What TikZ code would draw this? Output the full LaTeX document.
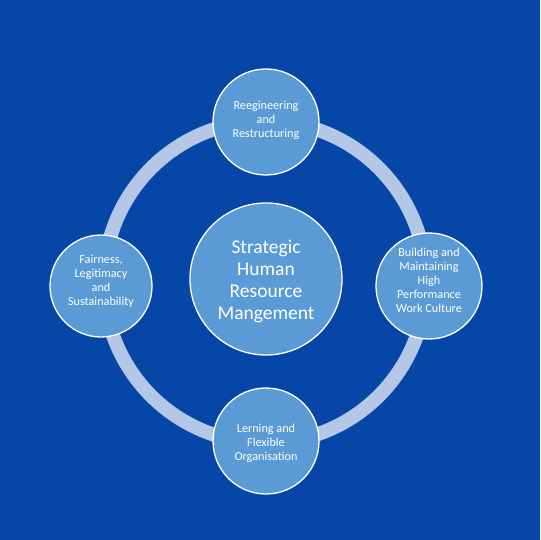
\documentclass[tikz,border=0pt]{standalone}
\usepackage{fontspec}
\setmainfont{Carlito}
\begin{document}
\begin{tikzpicture}[x=1pt,y=-1pt,
  small/.style={circle,draw=white,line width=1.3pt,fill=cblue,minimum size=106pt,inner sep=0pt},
  big/.style={circle,draw=white,line width=1.3pt,fill=cblue,minimum size=152pt,inner sep=0pt},
  stxt/.style={text=white,align=center,inner sep=0pt,font=\fontsize{12.2}{14}\selectfont},
  btxt/.style={text=white,align=center,inner sep=0pt,font=\fontsize{19.5}{22}\selectfont}]
\definecolor{bg}{HTML}{0546A6}
\definecolor{cblue}{HTML}{5B9BD5}
\definecolor{ring}{HTML}{B4C7E7}
\fill[bg] (0,0) rectangle (540,540);
\useasboundingbox (0,0) rectangle (540,540);
\coordinate (c) at (265,282);
\draw[ring,line width=14pt] (c) circle[radius=161];
\node[big] (m) at (266,279) {};
\node[small] (t) at (266,122) {};
\node[small] (r) at (429,286) {};
\node[small] (b) at (266,441) {};
\node[small,minimum size=102pt] (l) at (101,286) {};
\node[btxt] (mt) at ([yshift=-2pt]m.center) {Strategic\\Human\\Resource\\Mangement};
\node[stxt] (tt) at ([yshift=2pt]t.center) {Reegineering\\and\\Restructuring};
\node[stxt] (rt) at ([yshift=6pt]r.center) {Building and\\Maintaining\\High\\Performance\\Work Culture};
\node[stxt] (bt) at ([yshift=-2pt]b.center) {Lerning and\\Flexible\\Organisation};
\node[stxt] (lt) at ([yshift=5pt]l.center) {Fairness,\\Legitimacy\\and\\Sustainability};
\end{tikzpicture}
\end{document}
